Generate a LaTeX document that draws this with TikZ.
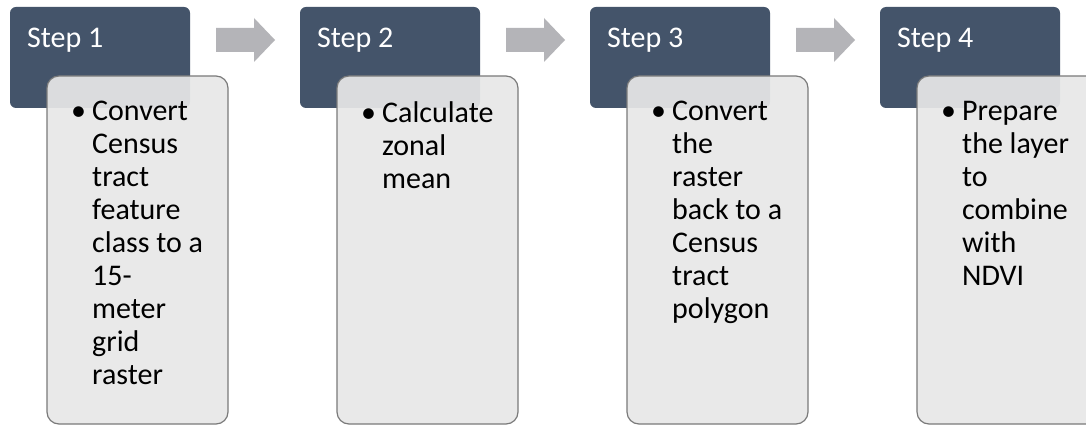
\documentclass[tikz,border=0pt]{standalone}
\usepackage{fontspec}
\setmainfont{Carlito}
\definecolor{darkbox}{HTML}{44546A}
\definecolor{lightbox}{HTML}{E8E8E8}
\definecolor{lightedge}{HTML}{7A7A7A}
\definecolor{arrowgray}{HTML}{B4B4B8}
\newcommand\bl{\makebox[21pt][l]{\textbullet}}
\newcommand\ind{\hspace*{21pt}}
\begin{document}
\begin{tikzpicture}[x=1pt,y=-1pt,
  stephead/.style={fill=darkbox, rounded corners=6pt},
  stepbody/.style={fill=lightbox, fill opacity=0.92, draw=lightedge, line width=1.2pt, rounded corners=12pt},
  steptitle/.style={anchor=base west, inner sep=0pt, text=white, font=\fontsize{30}{33}\selectfont},
  steptext/.style={anchor=north west, inner sep=0pt, align=left, text=black, font=\fontsize{30}{33}\selectfont},
  flowarrow/.style={fill=arrowgray}
]
\useasboundingbox (0,0) rectangle (1086,427);
\fill[white] (0,0) rectangle (1086,427);
\foreach \i/\dx in {1/0,2/290,3/580,4/870}{
  \fill[stephead] (10+\dx,7) rectangle (190+\dx,108);
  \node[steptitle] (s\i) at (27+\dx,48) {Step \i};
}
\foreach \i/\dx in {1/0,2/290,3/580,4/870}{
  \path[stepbody] (47+\dx,76) rectangle (228+\dx,424);
}
\node[steptext] (t1) at (71,101) {\bl Convert\\\ind Census\\\ind tract\\\ind feature\\\ind class to a\\\ind 15-\\\ind meter\\\ind grid\\\ind raster};
\node[steptext] (t2) at (361,101) {\bl Calculate\\\ind zonal\\\ind mean};
\node[steptext] (t3) at (651,101) {\bl Convert\\\ind the\\\ind raster\\\ind back to a\\\ind Census\\\ind tract\\\ind polygon};
\node[steptext] (t4) at (941,101) {\bl Prepare\\\ind the layer\\\ind to\\\ind combine\\\ind with\\\ind NDVI};
\foreach \i/\dx in {1/0,2/290,3/580}{
  \fill[flowarrow] (216+\dx,28) -- (254+\dx,28) -- (254+\dx,18) -- (275+\dx,40) -- (254+\dx,62) -- (254+\dx,52) -- (216+\dx,52) -- cycle;
}
\end{tikzpicture}
\end{document}
